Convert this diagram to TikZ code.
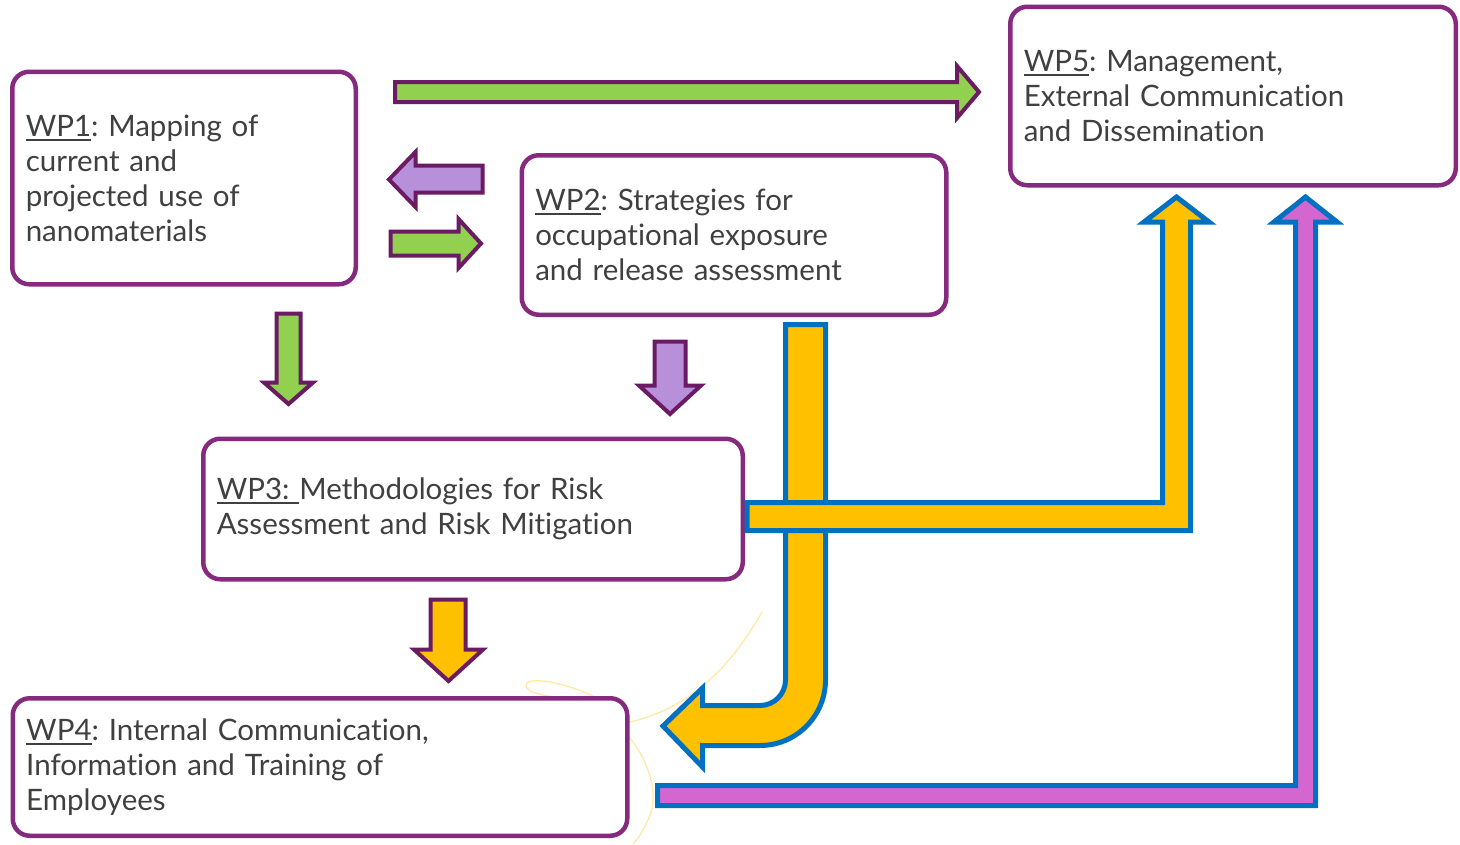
\documentclass[tikz,border=0pt]{standalone}
\usepackage{fontspec}
\setmainfont{Lato}[Ligatures={NoCommon}]
\frenchspacing

\definecolor{boxline}{HTML}{862A80}
\definecolor{arrline}{HTML}{6A1B63}
\definecolor{leaf}{HTML}{92D050}
\definecolor{lilac}{HTML}{B88FD9}
\definecolor{amber}{HTML}{FFC000}
\definecolor{orchid}{HTML}{D467CF}
\definecolor{bandline}{HTML}{0070C0}
\definecolor{ink}{HTML}{404040}
\definecolor{haze}{HTML}{FFE9A6}

% underline for the work-package labels
\newsavebox\wplabelbox
\newcommand\wpul[1]{\sbox\wplabelbox{#1}\rlap{\rule[-4.5pt]{\wd\wplabelbox}{1.8pt}}\usebox\wplabelbox}

\tikzset{
  wpbox/.style={draw=boxline, line width=4.5pt, rounded corners=17pt, fill=white,
    text=ink, align=left, inner xsep=13.5pt, inner ysep=0pt,
    font=\fontsize{29.5}{35}\selectfont},
  smallarrow/.style={draw=arrline, line width=4pt, line join=miter},
  bandarrow/.style={draw=bandline, line width=5pt, line join=miter},
  faint/.style={draw=haze, line width=1.3pt}
}

\begin{document}
\begin{tikzpicture}[x=1pt, y=-1pt]
  \useasboundingbox[fill=white] (0,0) rectangle (1460,844);

  % light decorative strokes behind the lower boxes
  \draw[faint] (762,612) .. controls (730,668) and (690,708) .. (630,722) .. controls (610,726) and (600,728) .. (590,729);
  \draw[faint] (595,697) .. controls (560,680) and (520,675) .. (527,688) .. controls (532,696) and (560,698) .. (600,700);
  \draw[faint] (620,728) .. controls (645,750) and (660,790) .. (650,815) .. controls (645,828) and (640,836) .. (633,844);

  % work packages
  \node[wpbox, text width=316.5pt, minimum height=212.5pt] (wp1) at (184,178)
    {\wpul{WP1}: Mapping of\\current and\\projected use of\\nanomaterials};
  \node[wpbox, text width=397.5pt, minimum height=159.5pt] (wp2) at (734,235)
    {\wpul{WP2}: Strategies for\\occupational exposure\\and release assessment};
  \node[wpbox, text width=512.5pt, minimum height=140.5pt] (wp3) at (473,509)
    {\wpul{WP3: }Methodologies for Risk\\Assessment and Risk Mitigation};
  \node[wpbox, text width=587.5pt, minimum height=137.5pt] (wp4) at (320,767)
    {\wpul{WP4}: Internal Communication,\\Information and Training of\\Employees};
  \node[wpbox, text width=418.5pt, minimum height=178.5pt] (wp5) at (1233,96)
    {\wpul{WP5}: Management,\\External Communication\\and Dissemination};

  % WP1 -> WP5
  \draw[smallarrow, fill=leaf] (395,82) -- (957,82) -- (957,66) -- (979,92)
    -- (957,118) -- (957,102) -- (395,102) -- cycle;
  % WP2 -> WP1
  \draw[smallarrow, fill=lilac] (482.5,165.5) -- (415.5,165.5) -- (415.5,152)
    -- (389,179.5) -- (415.5,207) -- (415.5,192.5) -- (482.5,192.5) -- cycle;
  % WP1 -> WP2
  \draw[smallarrow, fill=leaf] (390.5,231.5) -- (458.5,231.5) -- (458.5,219)
    -- (481,243.5) -- (458.5,268) -- (458.5,255.5) -- (390.5,255.5) -- cycle;
  % WP1 -> WP3
  \draw[smallarrow, fill=leaf] (276.5,313.5) -- (300.5,313.5) -- (300.5,382.5)
    -- (313,382.5) -- (288.5,404) -- (264,382.5) -- (276.5,382.5) -- cycle;
  % WP2 -> WP3
  \draw[smallarrow, fill=lilac] (654.5,341.5) -- (685.5,341.5) -- (685.5,385.5)
    -- (701,385.5) -- (670,414) -- (639,385.5) -- (654.5,385.5) -- cycle;
  % WP3 -> WP4
  \draw[smallarrow, fill=amber] (430.5,599.5) -- (465.5,599.5) -- (465.5,649.5)
    -- (483,649.5) -- (448.5,681) -- (414,649.5) -- (430.5,649.5) -- cycle;

  % WP2 -> WP4 (bent band)
  \draw[bandarrow, fill=amber] (785.5,324.5) -- (825.5,324.5) -- (825.5,680)
    arc[start angle=0, end angle=90, radius=65.5]
    -- (702.5,745.5) -- (702.5,767) -- (663,726) -- (702.5,688) -- (702.5,705.5)
    -- (760,705.5) arc[start angle=90, end angle=0, radius=25.5] -- cycle;

  % WP3 -> WP5
  \draw[bandarrow, fill=amber] (747,502.5) -- (1162.5,502.5) -- (1162.5,222)
    -- (1144,222) -- (1176.5,197) -- (1209,222) -- (1190.5,222)
    -- (1190.5,530.5) -- (747,530.5) -- cycle;

  % WP4 -> WP5
  \draw[bandarrow, fill=orchid] (657.5,785.5) -- (1295.5,785.5) -- (1295.5,222)
    -- (1274,222) -- (1305.5,197) -- (1337,222) -- (1315.5,222)
    -- (1315.5,805.5) -- (657.5,805.5) -- cycle;
\end{tikzpicture}
\end{document}
